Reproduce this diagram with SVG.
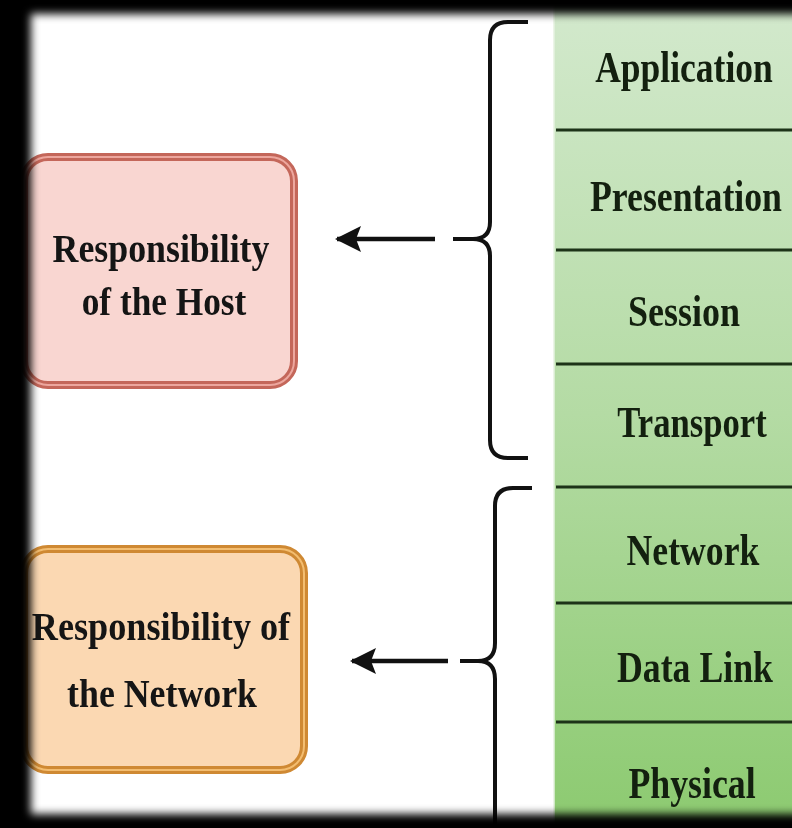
<svg xmlns="http://www.w3.org/2000/svg" width="792" height="828" viewBox="0 0 792 828">
  <defs>
    <linearGradient id="green" x1="0" y1="0" x2="0" y2="1">
      <stop offset="0" stop-color="#d3e9cd"/>
      <stop offset="0.5" stop-color="#b4dba4"/>
      <stop offset="1" stop-color="#8cca70"/>
    </linearGradient>
    <filter id="blur" filterUnits="userSpaceOnUse" x="-50" y="-50" width="900" height="930">
      <feGaussianBlur stdDeviation="4.5"/>
    </filter>
    <mask id="vig" maskUnits="userSpaceOnUse" x="0" y="0" width="792" height="828">
      <rect x="31" y="14" width="820" height="800" fill="#fff" filter="url(#blur)"/>
    </mask>
    <marker id="ah" viewBox="0 0 26 30" refX="24" refY="15" markerWidth="26" markerHeight="30" markerUnits="userSpaceOnUse" orient="auto">
      <path d="M26,15 L0,2 L5,15 L0,28 Z" fill="#111"/>
    </marker>
    <style>
      .lbl { font-family: "Liberation Serif", "Times New Roman", serif; font-weight: bold; fill: #151515; }
      .layer { font-size: 44px; text-anchor: middle; fill: #13200f; }
      .box { font-size: 40px; text-anchor: middle; }
      .sep { stroke: #1d3318; stroke-width: 3; }
      .brace { fill: none; stroke: #111; stroke-width: 4; stroke-linecap: butt; }
      .arrow { fill: none; stroke: #111; stroke-width: 4.5; }
    </style>
  </defs>

  <rect x="0" y="0" width="792" height="828" fill="#000"/>

  <g mask="url(#vig)">
    <rect x="0" y="0" width="792" height="828" fill="#fff"/>

    <!-- OSI layer column -->
    <g id="layers">
      <rect x="554" y="0" width="238" height="828" fill="url(#green)"/>
      <line x1="554" y1="0" x2="554" y2="828" stroke="#e6f2e0" stroke-width="1.5"/>
      <line class="sep" x1="556" y1="130" x2="792" y2="130"/>
      <line class="sep" x1="556" y1="250" x2="792" y2="250"/>
      <line class="sep" x1="556" y1="364" x2="792" y2="364"/>
      <line class="sep" x1="556" y1="487" x2="792" y2="487"/>
      <line class="sep" x1="556" y1="603" x2="792" y2="603"/>
      <line class="sep" x1="556" y1="722" x2="792" y2="722"/>
    </g>
    <g id="layer-application"><text class="lbl layer" transform="translate(684,82) scale(0.8,1)" textLength="222" lengthAdjust="spacingAndGlyphs">Application</text></g>
    <g id="layer-presentation"><text class="lbl layer" transform="translate(686,211) scale(0.8,1)" textLength="240" lengthAdjust="spacingAndGlyphs">Presentation</text></g>
    <g id="layer-session"><text class="lbl layer" transform="translate(684,326) scale(0.8,1)" textLength="140" lengthAdjust="spacingAndGlyphs">Session</text></g>
    <g id="layer-transport"><text class="lbl layer" transform="translate(692,437) scale(0.8,1)" textLength="187" lengthAdjust="spacingAndGlyphs">Transport</text></g>
    <g id="layer-network"><text class="lbl layer" transform="translate(693,565) scale(0.8,1)" textLength="166" lengthAdjust="spacingAndGlyphs">Network</text></g>
    <g id="layer-datalink"><text class="lbl layer" transform="translate(695,682) scale(0.8,1)" textLength="195" lengthAdjust="spacingAndGlyphs">Data Link</text></g>
    <g id="layer-physical"><text class="lbl layer" transform="translate(692,798) scale(0.8,1)" textLength="159" lengthAdjust="spacingAndGlyphs">Physical</text></g>

    <!-- Host responsibility box -->
    <g id="host">
      <rect x="24" y="157" width="270" height="228" rx="24" fill="#f9d6d1" stroke="#c4675a" stroke-width="8"/>
      <rect x="24" y="157" width="270" height="228" rx="24" fill="none" stroke="#eda79e" stroke-width="2"/>
      <text class="lbl box" transform="translate(161,262) scale(0.9,1)" textLength="241" lengthAdjust="spacingAndGlyphs">Responsibility</text>
      <text class="lbl box" transform="translate(164,315) scale(0.9,1)" textLength="183" lengthAdjust="spacingAndGlyphs">of the Host</text>
    </g>

    <!-- Network responsibility box -->
    <g id="network">
      <rect x="24" y="549" width="280" height="221" rx="24" fill="#fbd8b2" stroke="#cf8933" stroke-width="8"/>
      <rect x="24" y="549" width="280" height="221" rx="24" fill="none" stroke="#f3bd70" stroke-width="2"/>
      <text class="lbl box" transform="translate(161,640) scale(0.9,1)" textLength="287" lengthAdjust="spacingAndGlyphs">Responsibility of</text>
      <text class="lbl box" transform="translate(162,707) scale(0.9,1)" textLength="211" lengthAdjust="spacingAndGlyphs">the Network</text>
    </g>

    <!-- Connectors: braces and arrows -->
    <g id="connectors">
      <path class="brace" d="M528,22 H508 Q490,22 490,40 V222 Q490,239 473,239 H453 M473,239 Q490,239 490,256 V440 Q490,458 508,458 H528"/>
      <path class="brace" d="M532,488 H513 Q495,488 495,506 V643 Q495,661 478,661 H460 M478,661 Q495,661 495,679 V840"/>
      <line class="arrow" x1="435" y1="239" x2="337" y2="239" marker-end="url(#ah)"/>
      <line class="arrow" x1="448" y1="661" x2="352" y2="661" marker-end="url(#ah)"/>
    </g>
  </g>
</svg>
